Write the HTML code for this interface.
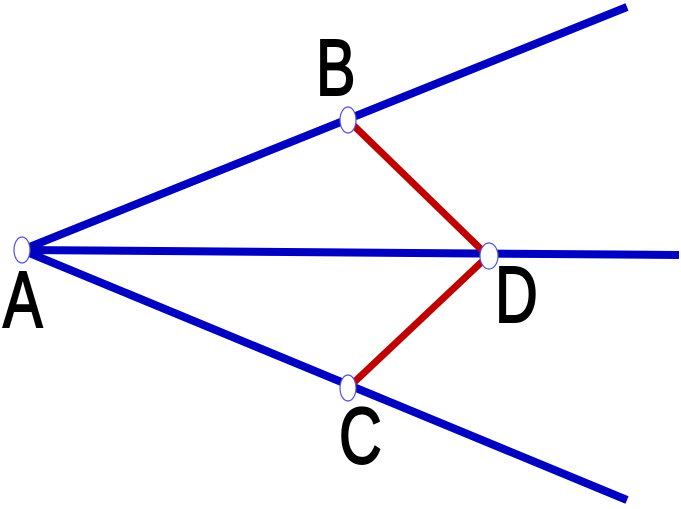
<!DOCTYPE html>
<html><head><style>html,body{margin:0;padding:0;background:#fff;width:681px;height:509px;overflow:hidden}</style></head>
<body>
<svg width="681" height="509" xmlns="http://www.w3.org/2000/svg">
<g stroke="#0000c0" stroke-width="8" stroke-linecap="butt">
<line x1="22" y1="250" x2="627" y2="7"/>
<line x1="22" y1="250" x2="679" y2="255"/>
<line x1="22" y1="250" x2="627" y2="500"/>
</g>
<g stroke="#c00000" stroke-width="7">
<line x1="348" y1="120" x2="488" y2="256"/>
<line x1="348" y1="388" x2="488" y2="256"/>
</g>
<g fill="#fff" stroke="#5050e0" stroke-width="1.2">
<ellipse cx="22" cy="250" rx="8" ry="13"/>
<ellipse cx="348" cy="120" rx="8" ry="13"/>
<ellipse cx="348" cy="388" rx="8" ry="13"/>
<ellipse cx="489" cy="256" rx="9" ry="13"/>
</g>
<g font-family="Liberation Sans, sans-serif" font-size="80" fill="#000" stroke="#000" stroke-width="2">
<text transform="translate(3,327) scale(0.74,1)">A</text>
<text transform="translate(316,95) scale(0.74,1)">B</text>
<text transform="translate(339,463) scale(0.74,1)">C</text>
<text transform="translate(495,322) scale(0.74,1)">D</text>
</g>
</svg>
</body></html>
